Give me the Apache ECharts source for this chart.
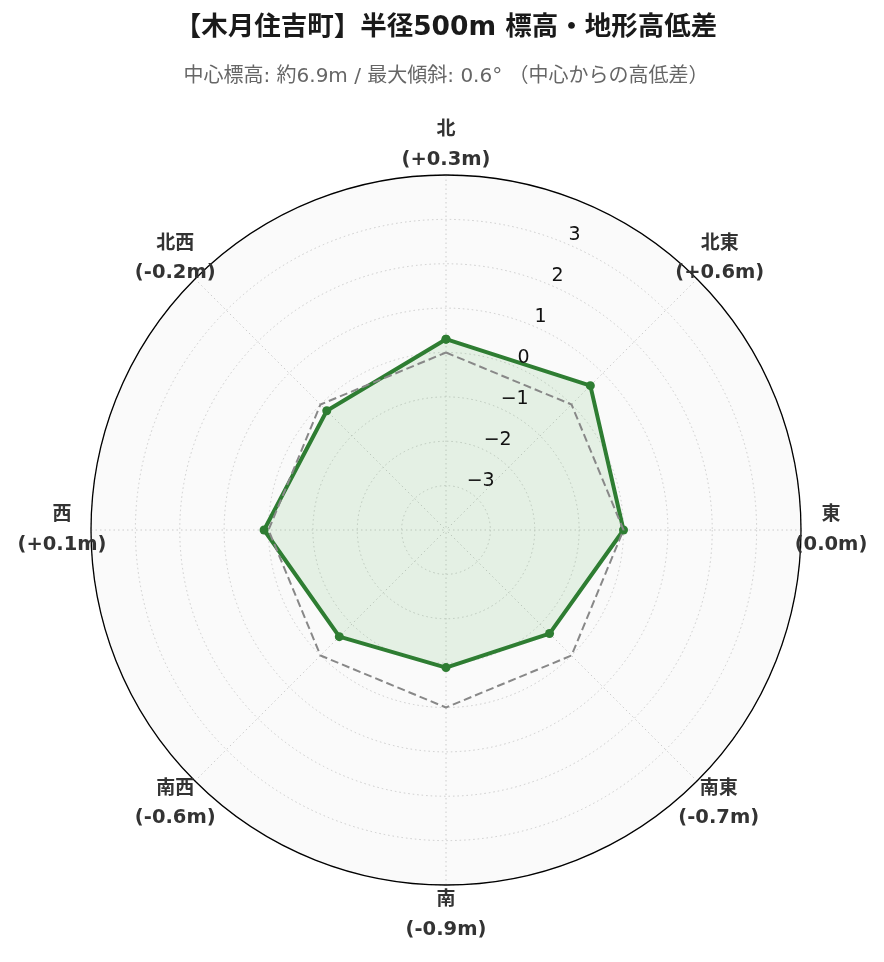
<!DOCTYPE html>
<html>
<head>
<meta charset="utf-8">
<script src="https://cdn.jsdelivr.net/npm/echarts@6/dist/echarts.min.js"></script>
<style>
  html, body { margin: 0; padding: 0; background: #fff; }
  #js-echarts { width: 884px; height: 962px; }
</style>
</head>
<body>
<div id="js-echarts"></div>
<script>
// data
const directions = ['北', '北東', '東', '南東', '南', '南西', '西', '北西'];
const heightDiff = [0.3, 0.6, 0.0, -0.7, -0.9, -0.6, 0.1, -0.2];
const baseline = [0, 0, 0, 0, 0, 0, 0, 0];
const radialTicks = [-3, -2, -1, 0, 1, 2, 3];
const titleText = '【木月住吉町】半径500m 標高・地形高低差';
const subText = '中心標高: 約6.9m / 最大傾斜: 0.6° （中心からの高低差）';

// label offsets per direction [top, right, bottom, left]
const labelPadding = [
  [0, 0, 41, 0], [0, 0, 20, 3], [0, 0, 0, 22], [22, 0, 0, 2],
  [41, 0, 0, 0], [22, 0, 0, 0], [0, 21, 0, 0], [0, 0, 20, 0]
];

const chartDom = document.getElementById('js-echarts');
if (chartDom) {
  const chart = echarts.init(chartDom);
  const theme = {
    green: '#2e7d32',
    fill: 'rgba(76, 175, 80, 0.18)',
    dashed: '#888888',
    grid: '#cccccc',
    text: '#333333',
    face: '#fafafa'
  };
  const latin = 'DejaVu Sans, Noto Sans CJK JP, sans-serif';

  const fmtDiff = v => (v > 0 ? '+' : '') + v.toFixed(1) + 'm';
  const step = 360 / directions.length;
  // each direction's compass angle, ring closed back to the first point
  const closed = arr => arr.map((v, i) => [v, i * step]).concat([[arr[0], 360]]);
  const center = [446, 530];
  const radius = 355;
  const hidden = { axisLine: { show: false }, axisTick: { show: false }, axisLabel: { show: false }, splitLine: { show: false } };

  const option = {
    backgroundColor: '#ffffff',
    animation: false,
    title: [
      {
        text: titleText,
        left: 446,
        top: 28,
        textAlign: 'center',
        textVerticalAlign: 'middle',
        padding: 0,
        textStyle: { fontFamily: latin, fontSize: 26.5, fontWeight: 'bold', color: '#1a1a1a' }
      },
      {
        text: subText,
        left: 446,
        top: 77,
        textAlign: 'center',
        textVerticalAlign: 'middle',
        padding: 0,
        textStyle: { fontFamily: latin, fontSize: 20, fontWeight: 'normal', color: '#666666' }
      }
    ],
    polar: [
      { center: center, radius: radius },
      { center: center, radius: radius },
      { center: center, radius: radius }
    ],
    angleAxis: [
      {
        // grid + data
        polarIndex: 0,
        z: 1,
        type: 'value',
        min: 0,
        max: 360,
        interval: step,
        startAngle: 90,
        clockwise: true,
        axisLine: { show: true, lineStyle: { color: '#000000', width: 1.3 } },
        axisTick: { show: false },
        axisLabel: { show: false },
        splitLine: { show: true, lineStyle: { color: theme.grid, type: [1.5, 3], width: 1 } }
      },
      {
        // direction labels
        polarIndex: 1,
        z: 2,
        type: 'category',
        data: directions.map((d, i) => ({
          value: d,
          textStyle: { padding: labelPadding[i] }
        })),
        startAngle: 90,
        clockwise: true,
        boundaryGap: false,
        axisLine: { show: false },
        axisTick: { show: false },
        splitLine: { show: false },
        axisLabel: {
          margin: -40,
          formatter: (value, index) => '{d|' + value + '}\n{v|(' + fmtDiff(heightDiff[index]) + ')}',
          rich: {
            d: { fontFamily: latin, fontSize: 19, fontWeight: 'bold', color: theme.text, lineHeight: 29, width: 96, align: 'center' },
            v: { fontFamily: latin, fontSize: 19.5, fontWeight: 'bold', color: theme.text, lineHeight: 29, width: 96, align: 'center' }
          }
        }
      },
      Object.assign({
        // background disk + radial tick label direction
        polarIndex: 2,
        z: 0,
        type: 'value',
        min: 0,
        max: 360,
        interval: 90,
        startAngle: 67.5,
        clockwise: true,
        splitArea: { show: true, areaStyle: { color: [theme.face] } }
      }, hidden)
    ],
    radiusAxis: [
      {
        polarIndex: 0,
        z: 1,
        type: 'value',
        min: -4,
        max: 4,
        interval: 1,
        axisLine: { show: false },
        axisTick: { show: false },
        axisLabel: { show: false },
        splitLine: { show: true, lineStyle: { color: theme.grid, type: [1.5, 3], width: 1 } }
      },
      Object.assign({ polarIndex: 1, type: 'value', min: -4, max: 4 }, hidden),
      {
        polarIndex: 2,
        z: 5,
        type: 'value',
        min: -4,
        max: 4,
        interval: 1,
        axisLine: { show: false },
        axisTick: { show: false },
        splitLine: { show: false },
        axisLabel: {
          margin: -4,
          align: 'left',
          verticalAlign: 'bottom',
          fontFamily: 'DejaVu Sans',
          fontSize: 19,
          color: '#111111',
          formatter: v => (radialTicks.indexOf(v) >= 0 ? String(v).replace('-', '\u2212') : '')
        }
      }
    ],
    series: [
      {
        name: '高低差',
        type: 'line',
        coordinateSystem: 'polar',
        polarIndex: 0,
        clip: false,
        data: closed(heightDiff),
        symbol: 'circle',
        symbolSize: 9,
        lineStyle: { color: theme.green, width: 4 },
        itemStyle: { color: theme.green },
        areaStyle: { color: theme.fill, origin: 'start' },
        z: 3
      },
      {
        name: '基準',
        type: 'line',
        coordinateSystem: 'polar',
        polarIndex: 0,
        clip: false,
        data: closed(baseline),
        symbol: 'none',
        lineStyle: { color: theme.dashed, width: 2, type: [8, 4] },
        z: 4
      }
    ]
  };

  chart.setOption(option);
}
</script>
</body>
</html>
